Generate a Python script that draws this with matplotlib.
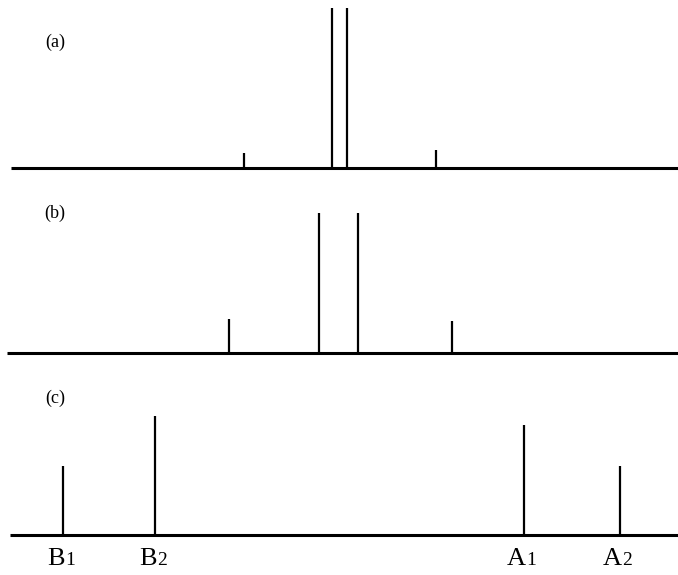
import matplotlib
matplotlib.use('Agg')
import matplotlib.pyplot as plt

plt.rcParams['font.family'] = ['Liberation Serif', 'DejaVu Serif']

# stick positions (relative, centre = 0) and intensities for each panel
pos_a = [-95, -7, 8, 97]
int_a = [0.095, 1.0, 1.0, 0.11]

pos_b = [-110, -20, 19, 113]
int_b = [0.21, 0.875, 0.875, 0.20]

pos_c = [-276, -184, 185, 281]
int_c = [0.43, 0.745, 0.69, 0.43]
lab_c = [('B', '1'), ('B', '2'), ('A', '1'), ('A', '2')]

W, H = 678, 575
fig = plt.figure(figsize=(W / 100, H / 100), dpi=100)

# (panel label, positions, intensities, baseline px, top px, line start px)
panels = [
    ('(a)', pos_a, int_a, 168, 0, 11),
    ('(b)', pos_b, int_b, 353, 190, 7),
    ('(c)', pos_c, int_c, 535, 375, 10),
]

scale = 160.0  # px per unit intensity
axes = []
for name, xs, ys, base, top, x0 in panels:
    ax = fig.add_axes([0, 1 - base / H, 1, (base - top) / H])
    ax.set_xlim(-W / 2, W / 2)
    ax.set_ylim(0, (base - top) / scale)
    ax.axis('off')
    ax.hlines(0, x0 - W / 2, W / 2, color='black', lw=2.2, clip_on=False)
    ax.vlines(xs, 0, ys, color='black', lw=1.6)
    axes.append(ax)

# panel labels
fig.text(55 / W, 1 - 42 / H, '(a)', fontsize=13, ha='center', va='center')
fig.text(55 / W, 1 - 213 / H, '(b)', fontsize=13, ha='center', va='center')
fig.text(55 / W, 1 - 398 / H, '(c)', fontsize=13, ha='center', va='center')

# peak labels under panel (c)
axc = axes[2]
for x, (big, sub) in zip(pos_c, lab_c):
    axc.annotate(big, (x, 0), xytext=(1, -21.5), textcoords='offset points',
                 ha='right', va='baseline', fontsize=19, annotation_clip=False)
    axc.annotate(sub, (x, 0), xytext=(1.5, -21.5), textcoords='offset points',
                 ha='left', va='baseline', fontsize=14, annotation_clip=False)

fig.savefig('out.png', dpi=100, facecolor='white')
